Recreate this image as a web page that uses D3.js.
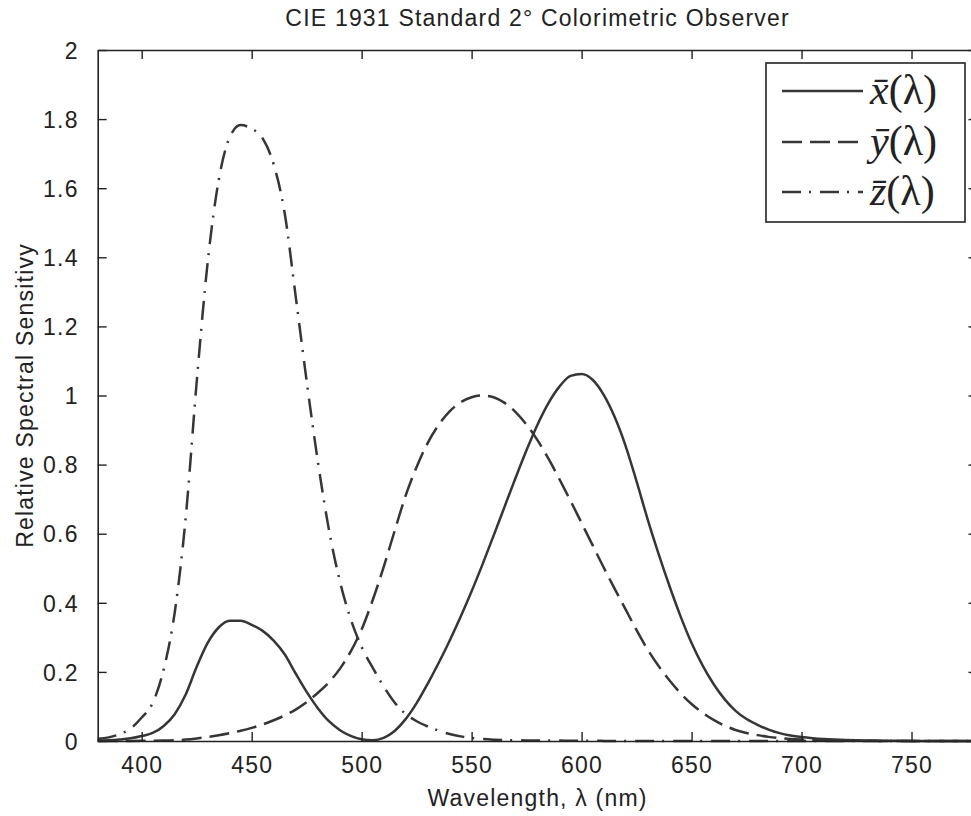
<!DOCTYPE html>
<html>
<head>
<meta charset="utf-8">
<script src="https://cdn.jsdelivr.net/npm/d3@7"></script>
<style>
  html, body { margin: 0; padding: 0; background: #fff; }
  svg { display: block; overflow: hidden; }
</style>
</head>
<body>
<svg id="chart" width="971" height="816"></svg>
<script>
// ---- data (CIE 1931 2° observer, 5 nm steps) ----
const wavelengths = d3.range(380, 781, 5);
const xBar = [0.001368,0.002236,0.004243,0.00765,0.01431,0.02319,0.04351,0.07763,0.13438,0.21477,
  0.2839,0.3285,0.34828,0.34806,0.3362,0.3187,0.2908,0.2511,0.19536,0.1421,
  0.09564,0.05795,0.03201,0.0147,0.0049,0.0024,0.0093,0.0291,0.06327,0.1096,
  0.1655,0.22575,0.2904,0.3597,0.43345,0.51205,0.5945,0.6784,0.7621,0.8425,
  0.9163,0.9786,1.0263,1.0567,1.0622,1.0456,1.0026,0.9384,0.85445,0.7514,
  0.6424,0.5419,0.4479,0.3608,0.2835,0.2187,0.1649,0.1212,0.0874,0.0636,
  0.04677,0.0329,0.0227,0.01584,0.011359,0.008111,0.00579,0.004109,0.002899,0.002049,
  0.00144,0.001,0.00069,0.000476,0.000332,0.000235,0.000166,0.000117,0.000083,0.000059,0.000042];
const yBar = [0.000039,0.000064,0.00012,0.000217,0.000396,0.00064,0.00121,0.00218,0.004,0.0073,
  0.0116,0.01684,0.023,0.0298,0.038,0.048,0.06,0.0739,0.09098,0.1126,
  0.13902,0.1693,0.20802,0.2586,0.323,0.4073,0.503,0.6082,0.71,0.7932,
  0.862,0.91485,0.954,0.9803,0.99495,1.0,0.995,0.9786,0.952,0.9154,
  0.87,0.8163,0.757,0.6949,0.631,0.5668,0.503,0.4412,0.381,0.321,
  0.265,0.217,0.175,0.1382,0.107,0.0816,0.061,0.04458,0.032,0.0232,
  0.017,0.01192,0.00821,0.005723,0.004102,0.002929,0.002091,0.001484,0.001047,0.00074,
  0.00052,0.000361,0.000249,0.000172,0.00012,0.000085,0.00006,0.000042,0.00003,0.000021,0.000015];
const zBar = [0.00645,0.01055,0.02005,0.03621,0.06785,0.1102,0.2074,0.3713,0.6456,1.03905,
  1.3856,1.62296,1.74706,1.7826,1.77211,1.7441,1.6692,1.5281,1.28764,1.0419,
  0.81295,0.6162,0.46518,0.3533,0.272,0.2123,0.1582,0.1117,0.07825,0.05725,
  0.04216,0.02984,0.0203,0.0134,0.00875,0.00575,0.0039,0.00275,0.0021,0.0018,
  0.00165,0.0014,0.0011,0.001,0.0008,0.0006,0.00034,0.00024,0.00019,0.0001,
  0.00005,0.00003,0.00002,0.00001,0,0,0,0,0,0,
  0,0,0,0,0,0,0,0,0,0,
  0,0,0,0,0,0,0,0,0,0,0];
const xTicks = [400, 450, 500, 550, 600, 650, 700, 750];
const yTicks = [0, 0.2, 0.4, 0.6, 0.8, 1, 1.2, 1.4, 1.6, 1.8, 2];
const seriesNames = ["x", "y", "z"];

// ---- layout ----
const L = 97.7, R = 977.5, T = 50, B = 741;
const svg = d3.select("#chart");
const x = d3.scaleLinear().domain([380, 780]).range([L, R]);
const y = d3.scaleLinear().domain([0, 2]).range([B, T]);
const ink = "#222";
const lineColor = "#363636";
const dashes = ["none", "20,8", "19,8,2,9"];
const series = [xBar, yBar, zBar];
const sans = "'Liberation Sans', Arial, sans-serif";
const serif = "'Liberation Serif', 'Times New Roman', serif";

// curves
const lineGen = d3.line().x(d => x(d[0])).y(d => y(d[1])).curve(d3.curveMonotoneX);
series.forEach((vals, i) => {
  svg.append("path")
    .datum(wavelengths.map((w, k) => [w, vals[k]]))
    .attr("d", lineGen)
    .attr("fill", "none")
    .attr("stroke", lineColor)
    .attr("stroke-width", 2.5)
    .attr("stroke-dasharray", dashes[i])
    .attr("stroke-linejoin", "round");
});

// axes (ticks inward on all four sides)
const tickLen = 9;
const fmt = d => d3.format("")(d);
const axB = svg.append("g").attr("transform", `translate(0,${B})`)
  .call(d3.axisBottom(x).tickValues(xTicks).tickSizeInner(-tickLen).tickSizeOuter(0).tickPadding(16).tickFormat(fmt));
const axT = svg.append("g").attr("transform", `translate(0,${T})`)
  .call(d3.axisTop(x).tickValues(xTicks).tickSizeInner(-tickLen).tickSizeOuter(0).tickFormat(""));
const axL = svg.append("g").attr("transform", `translate(${L},0)`)
  .call(d3.axisLeft(y).tickValues(yTicks).tickSizeInner(-tickLen).tickSizeOuter(0).tickPadding(19).tickFormat(fmt));
const axR = svg.append("g").attr("transform", `translate(${R},0)`)
  .call(d3.axisRight(y).tickValues(yTicks).tickSizeInner(-tickLen).tickSizeOuter(0).tickFormat(""));
[axB, axT, axL, axR].forEach(g => {
  g.select(".domain").attr("stroke", ink).attr("stroke-width", 1.6);
  g.selectAll(".tick line").attr("stroke", ink).attr("stroke-width", 1.4);
  g.selectAll("text").style("font-size", "23px").style("letter-spacing", "1.2px")
    .style("font-family", sans).style("fill", ink);
});
axB.selectAll("text").attr("dy", "0.71em");
axL.selectAll("text").attr("dy", "0.36em");

// title and labels
const cx = (L + R) / 2;
function label(sel) {
  return sel.style("font-family", sans).style("font-size", "23px")
    .style("letter-spacing", "1.2px").style("fill", ink).attr("text-anchor", "middle");
}
label(svg.append("text").attr("x", cx).attr("y", 26))
  .text("CIE 1931 Standard 2° Colorimetric Observer");
label(svg.append("text").attr("x", cx).attr("y", 806))
  .text("Wavelength, λ (nm)");
label(svg.append("text").attr("transform", `translate(33,${(T + B) / 2}) rotate(-90)`))
  .text("Relative Spectral Sensitivy");

// legend
const leg = svg.append("g");
leg.append("rect").attr("x", 766).attr("y", 63).attr("width", 199).attr("height", 159)
  .attr("fill", "#fff").attr("stroke", ink).attr("stroke-width", 1.6);
const rowY = [91, 142, 192];
seriesNames.forEach((n, i) => {
  leg.append("line").attr("x1", 782).attr("x2", 863).attr("y1", rowY[i]).attr("y2", rowY[i])
    .attr("stroke", lineColor).attr("stroke-width", 2.5).attr("stroke-dasharray", dashes[i]);
  const t = leg.append("text").attr("x", 870).attr("y", rowY[i] + 13)
    .style("font-family", serif).style("font-size", "42px").style("fill", ink);
  t.append("tspan").style("font-style", "italic").text(n + "\u0304");
  t.append("tspan").text("(λ)");
});
</script>
</body>
</html>
